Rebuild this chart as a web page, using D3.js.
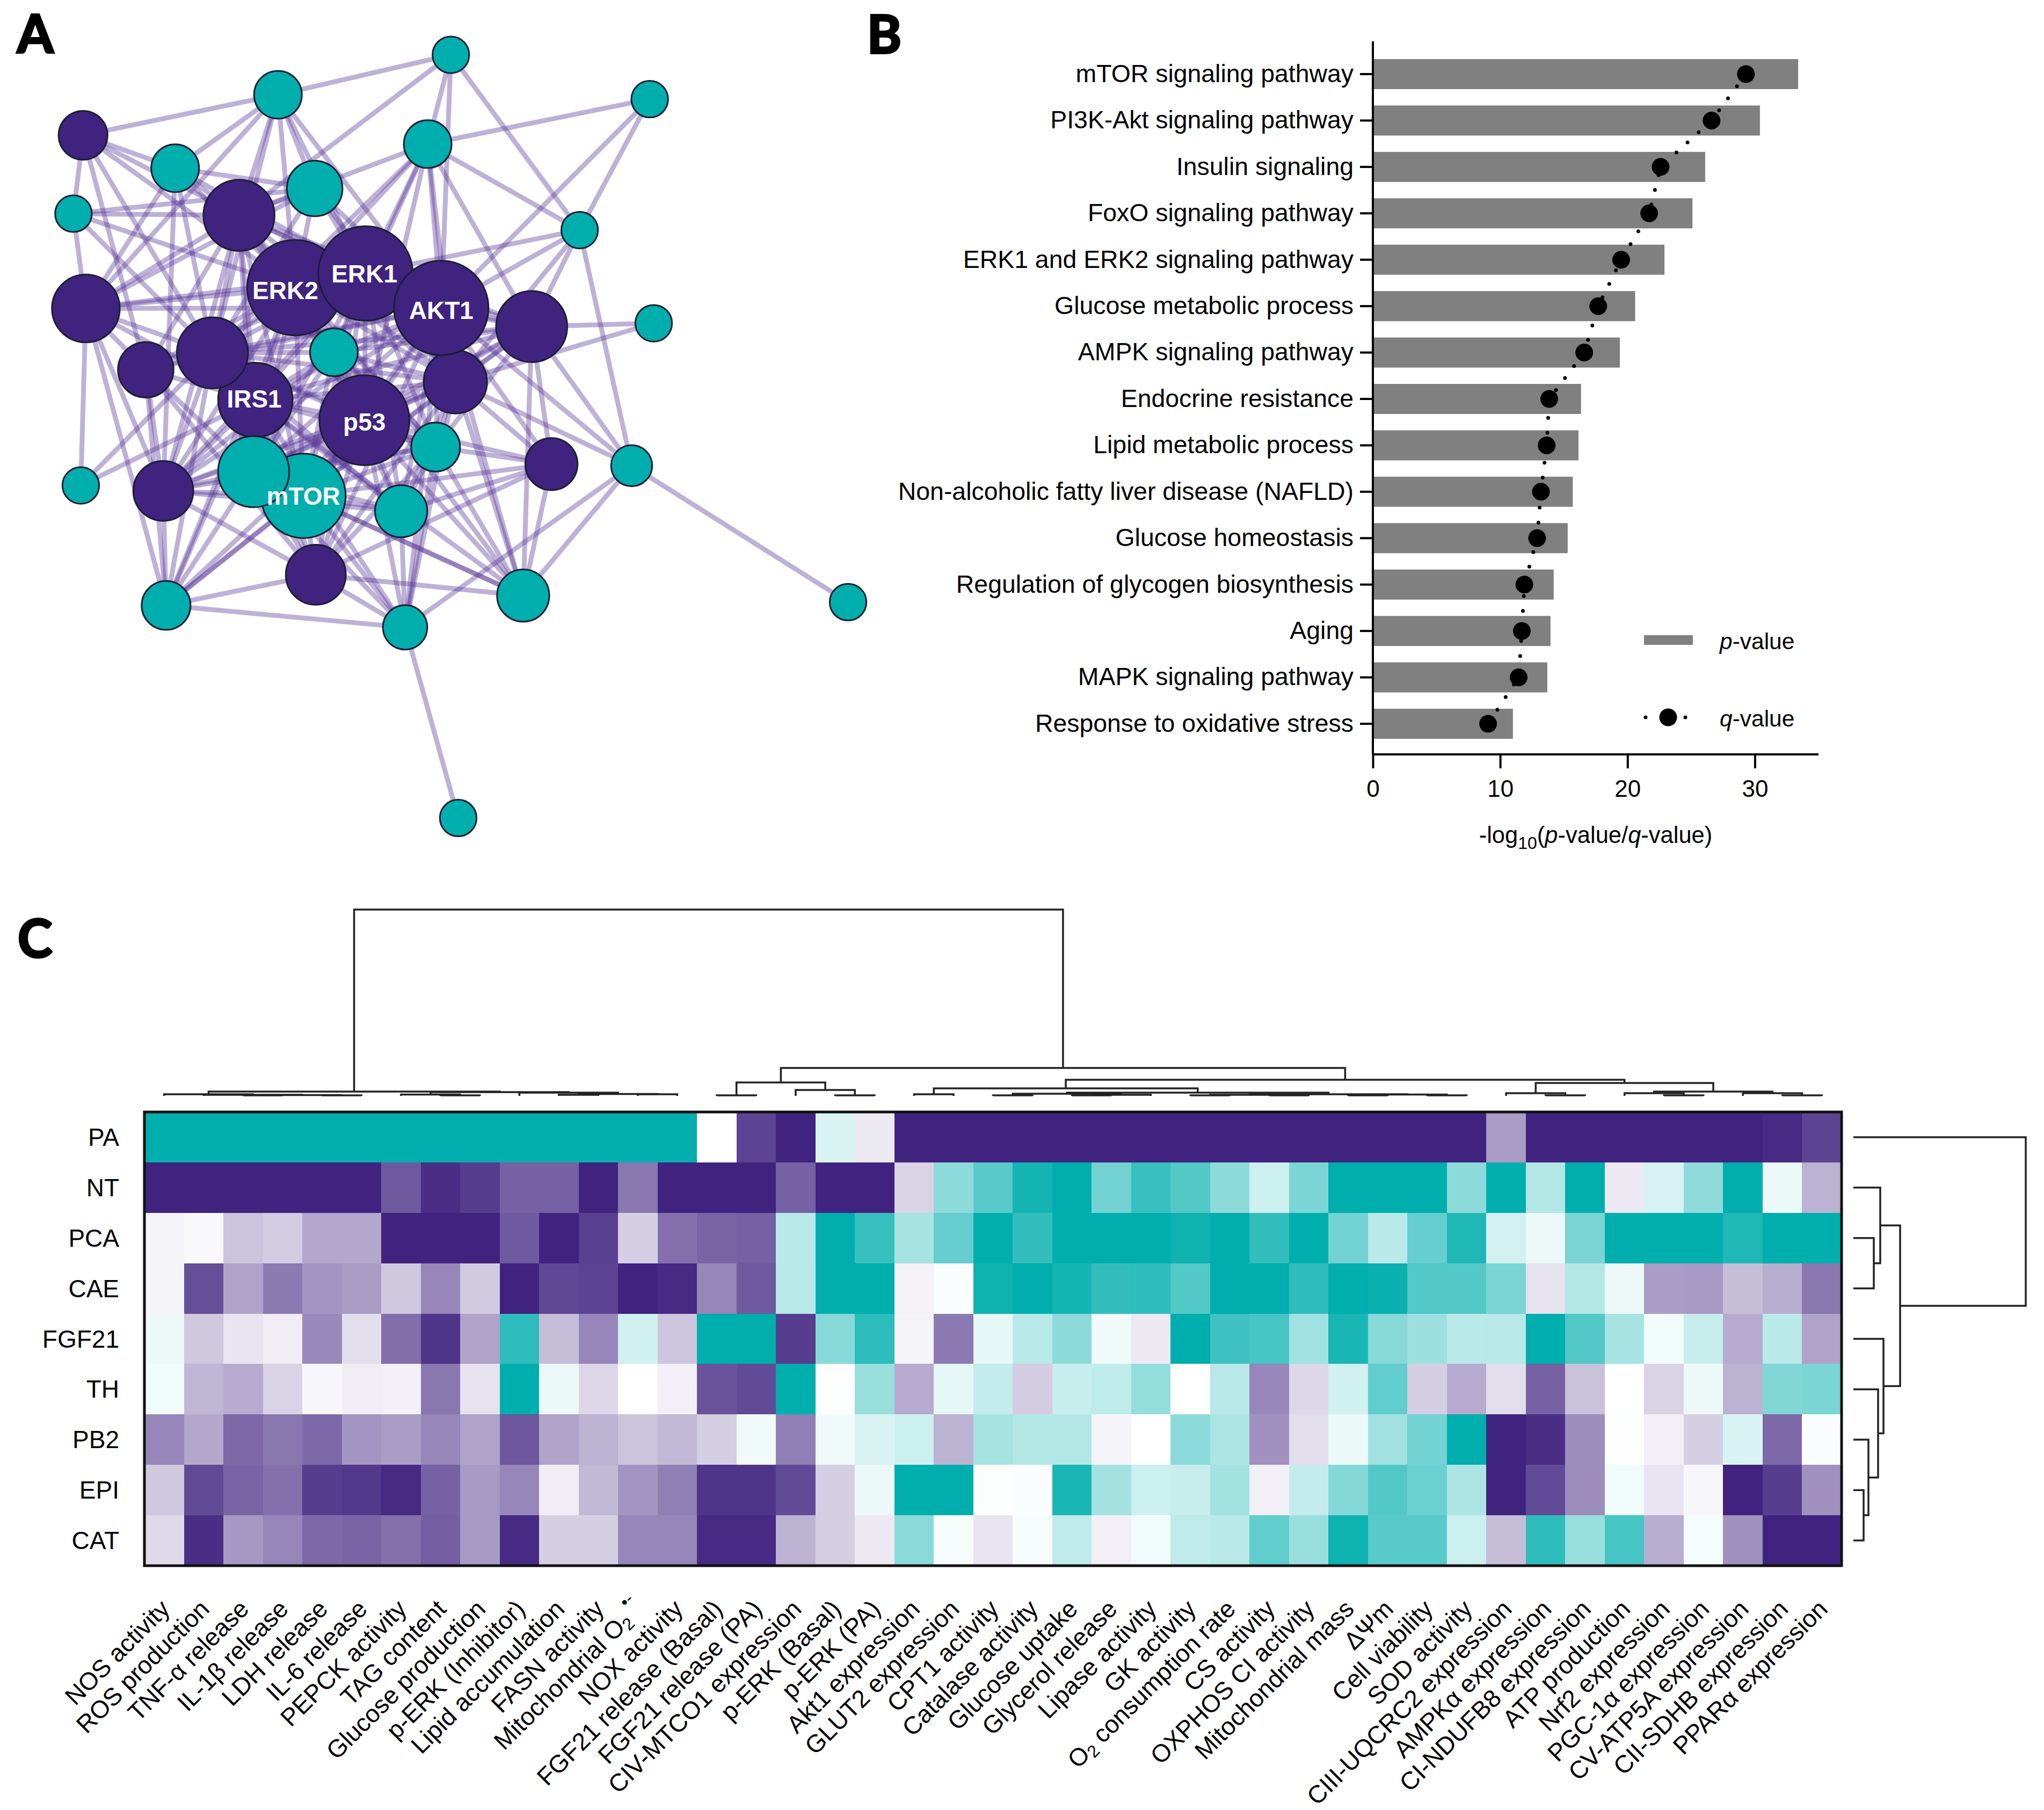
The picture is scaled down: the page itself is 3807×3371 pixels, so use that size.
<!DOCTYPE html>
<html>
<head>
<meta charset="utf-8">
<script src="https://d3js.org/d3.v7.min.js"></script>
<style>
html,body{margin:0;padding:0;background:#fff}
text{font-family:"Liberation Sans",Arial,sans-serif;fill:#000}
</style>
</head>
<body>
<svg id="fig" width="3807" height="3371" viewBox="0 0 3807 3371"></svg>
<script>
// ---------- Panel A data: network ----------
const nodeX=[798,492,1150,147,757,310,557,130,423,1026,522,647,781,152,941,1157,258,376,591,806,452,645,771,976,1118,143,289,449,537,710,559,294,926,717,1501,811];
const nodeY=[100,173,181,247,263,307,344,390,393,420,525,499,562,563,596,590,675,644,643,697,730,767,816,847,850,886,896,861,905,933,1049,1105,1087,1145,1099,1493];
const nodeSize=[33,43,33,44,43,43,50,33,64,33,86,85,85,61,64,33,50,64,43,57,67,81,44,47,37,33,54,64,76,47,54,44,47,40,33,33];
const nodeGroup=[1,1,1,0,1,1,1,1,0,1,0,0,0,0,0,1,0,0,1,0,0,0,1,0,1,1,0,1,1,1,0,1,1,1,1,1];
const nodeLabels=["ERK2","ERK1","AKT1","IRS1","p53","mTOR"];
const labelX=[505,645,781,450,645,537];
const labelY=[530,500,566,728,770,906];
const adjacency=[
[0,[1,8,4,12,9]],
[1,[3,13,8,5,10,11,12,17,6]],
[2,[4,9,12]],
[3,[7,5,8,10,17,16]],
[4,[8,10,11,12,14,19,9,18,21,17]],
[5,[6,8,10,13,17,11,26]],
[6,[8,10,11,12,13,17,19]],
[7,[6,8,10,13,17]],
[8,[10,11,12,13,14,16,17,18,19,20,21,22,26,27,28]],
[9,[12,14,19,24,10]],
[10,[11,12,13,14,16,17,18,19,20,21,22,26,27,28,29,31,32]],
[11,[12,13,14,16,17,18,19,20,21,22,26,27,28,29,30]],
[12,[13,14,16,17,18,19,20,21,22,23,24,26,27,28,29,30,32,33]],
[13,[16,17,20,25,26,31]],
[14,[15,19,21,22,23,24,32,20,18,17,28,27]],
[15,[19]],
[16,[17,20,26,27,31,30]],
[17,[19,20,21,22,25,26,27,28,18,29,31,30]],
[18,[19,20,21,22,26,27,28]],
[19,[20,21,22,23,24,26,27,28,29,30,32,33]],
[20,[21,22,25,26,27,28,29,30,31,32,33]],
[21,[22,23,26,27,28,29,30,31,32,33]],
[22,[23,26,27,28,29,32,33,30]],
[23,[28,29,30,32]],
[24,[32,33,34]],
[26,[27,28,30,31,29]],
[27,[28,29,30,31,33]],
[28,[29,30,31,32,33,32]],
[29,[33]],
[30,[31,32,33]],
[31,[33,28]],
[33,[35]]
];

// ---------- Panel B data: enrichment ----------
const pathways=["mTOR signaling pathway","PI3K-Akt signaling pathway","Insulin signaling","FoxO signaling pathway","ERK1 and ERK2 signaling pathway","Glucose metabolic process","AMPK signaling pathway","Endocrine resistance","Lipid metabolic process","Non-alcoholic fatty liver disease (NAFLD)","Glucose homeostasis","Regulation of glycogen biosynthesis","Aging","MAPK signaling pathway","Response to oxidative stress"];
const pValues=[33.4,30.4,26.1,25.1,22.9,20.6,19.4,16.35,16.15,15.7,15.3,14.2,13.95,13.7,11.0];
const qValues=[29.3,26.6,22.6,21.7,19.5,17.7,16.6,13.85,13.65,13.2,12.9,11.9,11.7,11.45,9.05];
const xTicks=[0,10,20,30];

// ---------- Panel C data: heatmap ----------
const rowLabels=["PA","NT","PCA","CAE","FGF21","TH","PB2","EPI","CAT"];
const colLabels=["NOS activity","ROS production","TNF-α release","IL-1β release","LDH release","IL-6 release","PEPCK activity","TAG content","Glucose production","p-ERK (Inhibitor)","Lipid accumulation","FASN activity","Mitochondrial O_2^•-","NOX activity","FGF21 release (Basal)","FGF21 release (PA)","CIV-MTCO1 expression","p-ERK (Basal)","p-ERK (PA)","Akt1 expression","GLUT2 expression","CPT1 activity","Catalase activity","Glucose uptake","Glycerol release","Lipase activity","GK activity","O_2 consumption rate","CS activity","OXPHOS CI activity","Mitochondrial mass","ΔΨm","Cell viability","SOD activity","CIII-UQCRC2 expression","AMPKα expression","CI-NDUFB8 expression","ATP production","Nrf2 expression","PGC-1α expression","CV-ATP5A expression","CII-SDHB expression","PPARα expression"];
const rowPA=[-1,-1,-1,-1,-1,-1,-1,-1,-1,-1,-1,-1,-1,-1,0,.85,1,-.15,.1,1,1,1,1,1,1,1,1,1,1,1,1,1,1,1,.45,1,1,1,1,1,1,.97,.85];
const rowNT=[1,1,1,1,1,1,.75,.95,.88,.72,.72,1,.62,1,1,1,.72,1,1,.2,-.45,-.65,-.92,-1,-.55,-.78,-.68,-.45,-.2,-.52,-1,-1,-1,-.45,-1,-.3,-1,.1,-.16,-.44,-1,-.08,.35];
const rowPCA=[.05,.03,.27,.23,.4,.4,1,1,1,.75,1,.87,.22,.65,.7,.72,-.27,-1,-.78,-.35,-.6,-1,-.8,-1,-1,-1,-.95,-1,-.8,-1,-.55,-.27,-.6,-.88,-.17,-.07,-.52,-1,-1,-1,-.88,-1,-1];
const rowCAE=[.05,.8,.42,.6,.48,.45,.25,.55,.24,1,.83,.85,1,.97,.55,.75,-.28,-1,-1,.06,-.02,-.95,-1,-.92,-.8,-.82,-.68,-1,-1,-.82,-1,-.97,-.68,-.68,-.52,.13,-.3,-.07,.45,.46,.3,.37,.62];
const rowFGF21=[-.07,.25,.12,.08,.53,.15,.66,.92,.42,-.82,.3,.55,-.18,.26,-1,-1,.88,-.47,-.83,.05,.6,-.1,-.27,-.45,-.06,.1,-1,-.75,-.72,-.37,-.9,-.47,-.38,-.27,-.28,-1,-.68,-.35,-.05,-.22,.38,-.27,.42];
const rowTH=[-.05,.33,.38,.2,.04,.08,.07,.62,.13,-1,-.08,.18,0,.07,.78,.82,-1,-.01,-.4,.38,-.1,-.23,.23,-.22,-.25,-.42,0,-.28,.55,.18,-.18,-.62,.22,.38,.15,.72,.28,0,.2,-.07,.35,-.5,-.52];
const rowPB2=[.55,.4,.68,.62,.68,.48,.45,.55,.42,.77,.42,.35,.27,.32,.22,-.06,.58,-.06,-.15,-.2,.35,-.35,-.3,-.3,.05,0,-.45,-.32,.5,.15,-.08,-.37,-.55,-1,1,.95,.52,-.01,.07,.22,-.15,.68,-.02];
const rowEPI=[.25,.82,.7,.65,.88,.9,.97,.72,.46,.55,.08,.32,.48,.58,.92,.92,.82,.22,-.08,-1,-1,-.01,-.02,-.9,-.36,-.2,-.22,-.36,.07,-.23,-.48,-.68,-.58,-.32,1,.82,.52,-.05,.12,.04,1,.88,.5];
const rowCAT=[.17,.95,.47,.55,.68,.7,.65,.73,.46,.97,.22,.22,.55,.55,.97,.97,.35,.22,.1,-.46,-.03,.12,-.03,-.25,.07,-.05,-.25,-.28,-.62,-.4,-.95,-.65,-.65,-.2,.3,-.82,-.4,-.72,.37,-.04,.5,1,1];
const heatRows=[rowPA,rowNT,rowPCA,rowCAE,rowFGF21,rowTH,rowPB2,rowEPI,rowCAT];

// dendrograms: [merge height, left, right]; numbers are leaf indices
const colTree=[347,
 [8,[3,0,[2,1,[1.5,[1,2,3],[1,4,5]]]],[7,[2.5,6,[1,7,8]],[6,9,[3.5,[2,10,11],[3,12,13]]]]],
 [52,
  [25,[1,14,15],[11,16,[1,17,18]]],
  [30,
   [14,[3,19,20],[6,[4,[1,21,22],[2,[1,23,24],25]],[3,[2,[1,26,27],[1,28,29]],[2.5,[1,30,31],[1,32,33]]]]],
   [24,[5,34,[1,35,36]],[8,[5,37,[1,38,39]],[5,40,[1,41,42]]]]
  ]
 ]
];
const rowTree=[321,0,[87,[50,1,[38,2,3]],[56,4,[46,5,[28,6,[19,7,8]]]]]];

// ---------- Drawing ----------
const svg=d3.select("#fig");
const PURPLE="#40237f", TEAL="#00aead";

// panel letters
const letters=[["A",32,98],["B",1615,99],["C",33,1783]];
svg.selectAll("text.letter").data(letters).join("text").attr("class","letter")
 .attr("x",d=>d[1]).attr("y",d=>d[2]).text(d=>d[0])
 .style("font-family","Lato").style("font-weight",700).style("font-size","97px")
 .style("stroke","#000").style("stroke-width","4px");

// ---- Panel A
const nx=d3.scaleLinear().domain([0,1568]).range([0,1650]);
const ny=d3.scaleLinear().domain([0,1568]).range([0,1600]);
const nr=d3.scaleLinear().domain([0,100]).range([0,103.5]);
const gA=svg.append("g");
const edgeList=adjacency.flatMap(([a,list])=>list.map(b=>[a,b]));
gA.append("g").selectAll("line").data(edgeList).join("line")
 .attr("x1",d=>nx(nodeX[d[0]])).attr("y1",d=>ny(nodeY[d[0]]))
 .attr("x2",d=>nx(nodeX[d[1]])).attr("y2",d=>ny(nodeY[d[1]]))
 .attr("stroke","rgb(84,51,150)").attr("stroke-opacity",.38).attr("stroke-width",9);
const drawOrder=[0,1,2,3,4,5,6,7,9,13,15,14,16,19,10,11,12,20,17,8,18,28,21,22,23,24,25,26,27,29,30,31,32,33,34,35];
gA.append("g").selectAll("circle").data(drawOrder).join("circle")
 .attr("cx",i=>nx(nodeX[i])).attr("cy",i=>ny(nodeY[i])).attr("r",i=>nr(nodeSize[i]))
 .attr("fill",i=>nodeGroup[i]?TEAL:PURPLE).attr("stroke","#1d1d33").attr("stroke-width",3);
gA.append("g").selectAll("text").data(nodeLabels).join("text")
 .attr("x",(d,i)=>nx(labelX[i])).attr("y",(d,i)=>ny(labelY[i]))
 .attr("text-anchor","middle").attr("dominant-baseline","central")
 .style("fill","#fff").style("font-weight",700).style("font-size","46px").text(d=>d);

// ---- Panel B
const xB=d3.scaleLinear().domain([0,35]).range([2557,3387]);
const yB=d3.scaleBand().domain(pathways).range([94.8,1391.2]).paddingInner(.352).paddingOuter(.176);
const gB=svg.append("g");
gB.append("g").selectAll("rect").data(pathways).join("rect")
 .attr("x",xB(0)).attr("y",d=>yB(d)).attr("height",yB.bandwidth())
 .attr("width",(d,i)=>xB(pValues[i])-xB(0)).attr("fill","#808080");
const cy=d=>yB(d)+yB.bandwidth()/2;
const qLine=d3.line().x((d,i)=>xB(qValues[i])).y(d=>cy(d));
gB.append("path").attr("d",qLine(pathways)).attr("fill","none").attr("stroke","#000")
 .attr("stroke-width",7).attr("stroke-linecap","round").attr("stroke-dasharray","0 28");
gB.append("g").selectAll("circle").data(pathways).join("circle")
 .attr("cx",(d,i)=>xB(qValues[i])).attr("cy",d=>cy(d)).attr("r",16.5).attr("fill","#000");
const axL=gB.append("g").attr("transform",`translate(${xB(0)},0)`)
 .call(d3.axisLeft(yB).tickSize(24).tickPadding(12));
axL.select(".domain").attr("d","M0,77V1405").attr("stroke-width",4);
axL.selectAll(".tick line").attr("stroke-width",4);
axL.selectAll("text").style("font-size","46.4px").style("font-family","'Liberation Sans'");
const axB=gB.append("g").attr("transform","translate(0,1405)")
 .call(d3.axisBottom(xB).tickValues(xTicks).tickFormat(d3.format("d")).tickSize(26).tickPadding(22));
axB.select(".domain").attr("d",`M${xB(0)},0H${xB(35)}`).attr("stroke-width",4);
axB.selectAll(".tick line").attr("stroke-width",4);
axB.selectAll("text").style("font-size","44px").style("font-family","'Liberation Sans'");
const xTitle=gB.append("text").attr("x",2972).attr("y",1570).attr("text-anchor","middle").style("font-size","43.5px");
xTitle.append("tspan").text("-log");
xTitle.append("tspan").attr("dy",11).style("font-size","32px").text("10");
xTitle.append("tspan").attr("dy",-11).text("(");
xTitle.append("tspan").style("font-style","italic").text("p");
xTitle.append("tspan").text("-value/");
xTitle.append("tspan").style("font-style","italic").text("q");
xTitle.append("tspan").text("-value)");
// legend
gB.append("rect").attr("x",3062).attr("y",1183).attr("width",91).attr("height",18).attr("fill","#808080");
gB.append("line").attr("x1",3065).attr("x2",3140).attr("y1",1336).attr("y2",1336).attr("stroke","#000")
 .attr("stroke-width",7).attr("stroke-linecap","round").attr("stroke-dasharray","0 37");
gB.append("circle").attr("cx",3107).attr("cy",1336).attr("r",16.5).attr("fill","#000");
[["p",1194],["q",1338]].forEach(([s,y])=>{
 const t=gB.append("text").attr("x",3203).attr("y",y).attr("dominant-baseline","central").style("font-size","42.5px");
 t.append("tspan").style("font-style","italic").text(s);
 t.append("tspan").text("-value");
});

// ---- Panel C
const xC=d3.scaleBand().domain(d3.range(colLabels.length)).range([269,3430]);
const yC=d3.scaleBand().domain(rowLabels).range([2071,2916]);
const color=d3.scaleLinear().domain([-1,0,1]).range([TEAL,"#ffffff",PURPLE]);
const gC=svg.append("g");
const cells=rowLabels.flatMap((r,ri)=>colLabels.map((c,ci)=>({r,ci,v:heatRows[ri][ci]})));
gC.append("g").attr("shape-rendering","crispEdges").selectAll("rect").data(cells).join("rect")
 .attr("x",d=>xC(d.ci)).attr("y",d=>yC(d.r)).attr("width",xC.bandwidth()+.5).attr("height",yC.bandwidth()+.5)
 .attr("fill",d=>color(d.v));
gC.append("rect").attr("x",269).attr("y",2071).attr("width",3430-269).attr("height",2916-2071)
 .attr("fill","none").attr("stroke","#111").attr("stroke-width",5);
gC.append("g").selectAll("text").data(rowLabels).join("text")
 .attr("x",222).attr("y",d=>yC(d)+yC.bandwidth()/2).attr("text-anchor","end").attr("dominant-baseline","central")
 .style("font-size","46px").text(d=>d);
// column labels with sub/superscripts
colLabels.forEach((lab,i)=>{
 const t=gC.append("text").attr("text-anchor","end").attr("dominant-baseline","central")
  .attr("transform",`translate(${xC(i)+xC.bandwidth()/2+2},2988) rotate(-45)`).style("font-size","46px");
 const parts=lab.split(/(_2|\^•-)/).filter(s=>s.length);
 let shift=0;
 parts.forEach(p=>{
  if(p==="_2"){t.append("tspan").attr("dy",12-shift).style("font-size","32px").text("2");shift=12;}
  else if(p==="^•-"){t.append("tspan").attr("dy",-34).style("font-size","32px").text(" •-");shift=-22;}
  else{const s=t.append("tspan").text(p); if(shift){s.attr("dy",-shift);shift=0;}}
 });
});

// dendrograms
function buildTree(spec){
 return d3.hierarchy(spec,d=>Array.isArray(d)?d.slice(1):null);
}
function layoutTree(root,pos,heightScale){
 root.eachAfter(n=>{
  if(n.children){
   n.p=(n.children[0].p+n.children[1].p)/2;
   n.h=heightScale(n.data[0]);
  }else{
   n.p=pos(n.data);
   n.h=heightScale(0);
  }
 });
 return root;
}
const hTop=d3.scaleLinear().domain([0,347]).range([2041,1694]);
const hRight=d3.scaleLinear().domain([0,321]).range([3452,3773]);
const colPos=v=>xC(v)+xC.bandwidth()/2;
const rowPos=v=>yC(rowLabels[v])+yC.bandwidth()/2;
const topRoot=layoutTree(buildTree(colTree),colPos,hTop);
const rightRoot=layoutTree(buildTree(rowTree),rowPos,hRight);
const dendroPaths=[];
topRoot.each(n=>{ if(n.children){const [a,b]=n.children; dendroPaths.push(`M${a.p},${a.h}V${n.h}H${b.p}V${b.h}`);} });
rightRoot.each(n=>{ if(n.children){const [a,b]=n.children; dendroPaths.push(`M${a.h},${a.p}H${n.h}V${b.p}H${b.h}`);} });
gC.append("g").selectAll("path").data(dendroPaths).join("path").attr("d",d=>d)
 .attr("fill","none").attr("stroke","#222").attr("stroke-width",3.5);
</script>
</body>
</html>
